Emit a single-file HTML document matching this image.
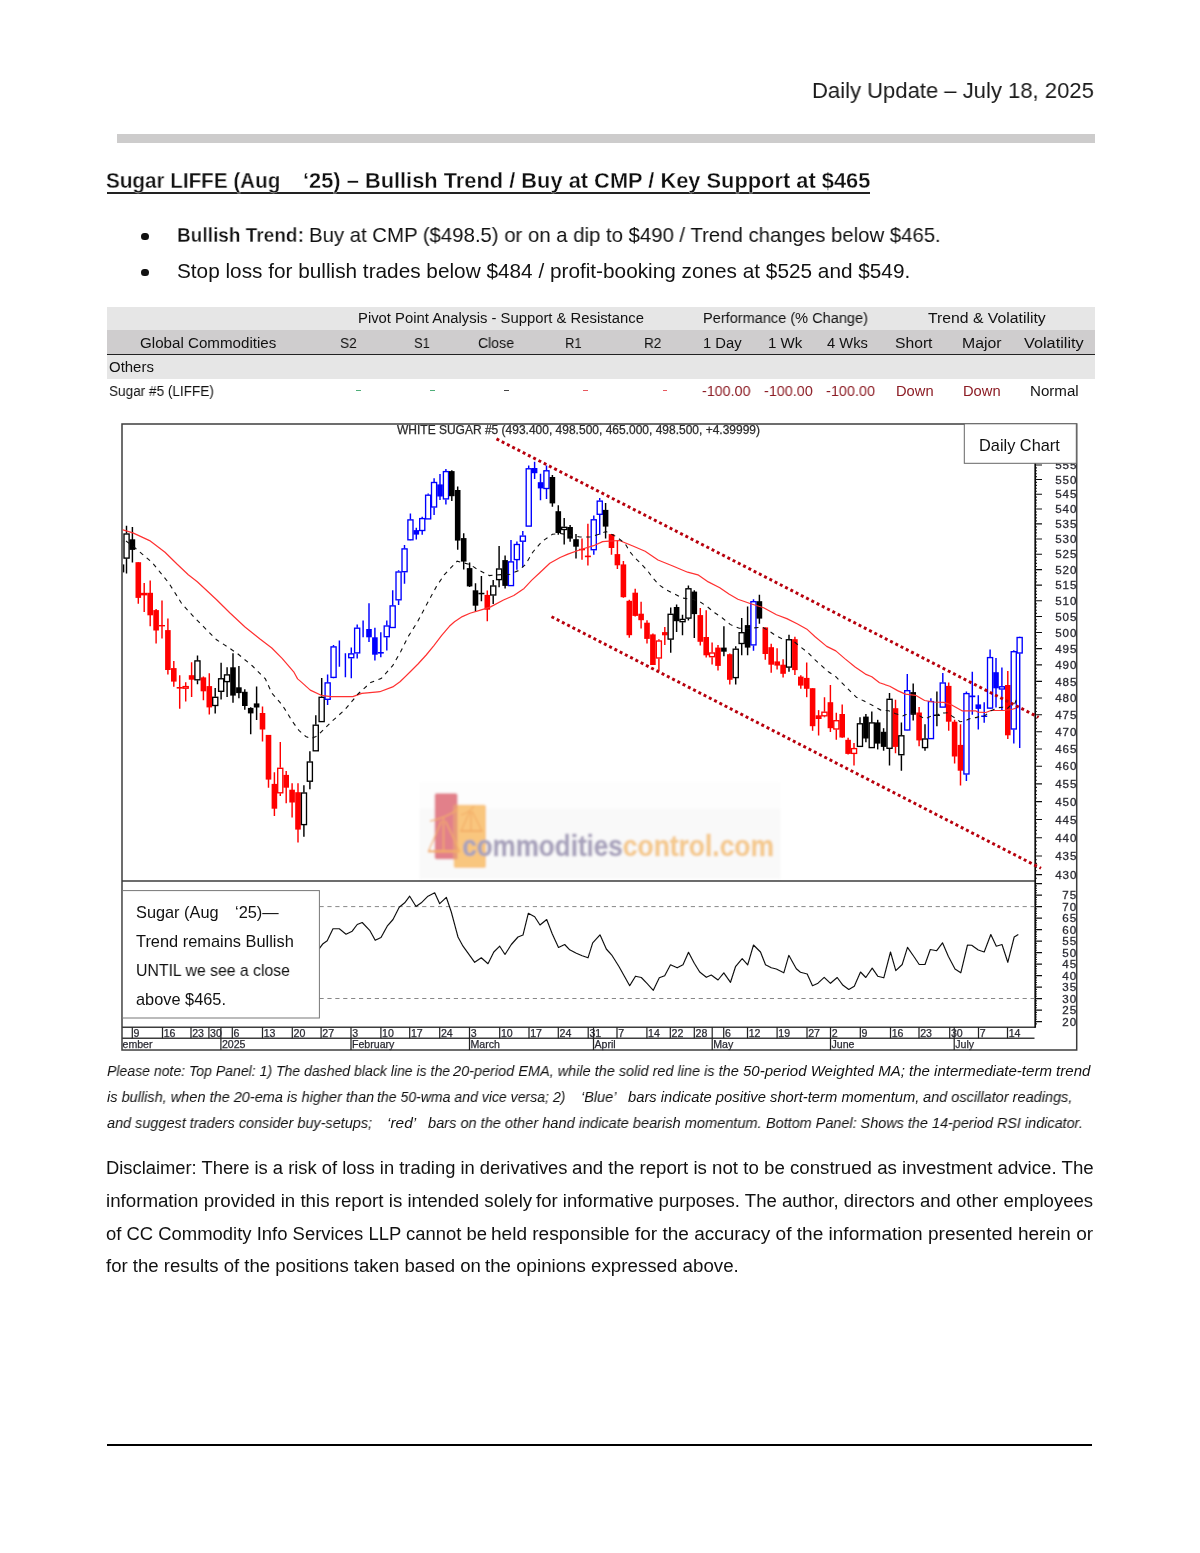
<!DOCTYPE html>
<html><head><meta charset="utf-8"><title>Daily Update</title>
<style>
html,body{margin:0;padding:0;background:#fff}
body{width:1200px;height:1553px;position:relative;overflow:hidden;font-family:"Liberation Sans",sans-serif}
.t{position:absolute;white-space:pre;line-height:1;transform-origin:0 0;color:#111;will-change:transform}
.b{position:absolute}
svg{position:absolute;left:0;top:0}
</style></head><body>
<div class="b" style="left:117px;top:134px;width:977.5px;height:8.5px;background:#cdcccc;"></div>
<div class="b" style="left:107px;top:192.3px;width:763px;height:1.6px;background:#222;"></div>
<div class="b" style="left:141.3px;top:232.5px;width:7.5px;height:7.9px;background:#111;border-radius:50%"></div>
<div class="b" style="left:141.3px;top:268.5px;width:7.5px;height:7.9px;background:#111;border-radius:50%"></div>
<div class="b" style="left:107px;top:307px;width:987.5px;height:23px;background:#e6e6e6;"></div>
<div class="b" style="left:107px;top:330px;width:987.5px;height:23.6px;background:#cfcdce;"></div>
<div class="b" style="left:107px;top:353.5px;width:987.5px;height:1.3px;background:#222;"></div>
<div class="b" style="left:107px;top:355px;width:987.5px;height:23.6px;background:#e6e6e6;"></div>
<div class="b" style="left:356.3px;top:390.4px;width:4.4px;height:1.1px;background:#4fae79;"></div>
<div class="b" style="left:430.4px;top:390.4px;width:4.4px;height:1.1px;background:#4fae79;"></div>
<div class="b" style="left:504.2px;top:390.4px;width:4.4px;height:1.1px;background:#444;"></div>
<div class="b" style="left:583.4px;top:390.4px;width:4.4px;height:1.1px;background:#e8585e;"></div>
<div class="b" style="left:662.8px;top:390.4px;width:4.4px;height:1.1px;background:#e8585e;"></div>
<div class="b" style="left:107px;top:1443.6px;width:984.5px;height:2.8px;background:#000;"></div>
<svg width="1200" height="1553" viewBox="0 0 1200 1553" font-family="Liberation Sans, sans-serif">
<defs><clipPath id="cp"><rect x="122.7" y="424" width="954" height="626"/></clipPath><clipPath id="cl"><rect x="1040" y="463.5" width="36.2" height="566"/></clipPath><filter id="bl" x="0" y="0" width="1200" height="1553" filterUnits="userSpaceOnUse"><feGaussianBlur stdDeviation="0.42"/></filter><filter id="bw" x="400" y="770" width="400" height="120" filterUnits="userSpaceOnUse"><feGaussianBlur stdDeviation="0.8"/></filter></defs>
<g filter="url(#bl)"><g filter="url(#bw)"><rect x="419.5" y="782" width="361" height="97" fill="#fdfdfd"/><rect x="419.5" y="808.5" width="361" height="70" fill="#f9f9f9"/><rect x="434.7" y="793.3" width="22.8" height="66" rx="2" fill="#e2808a"/><rect x="453.7" y="804.7" width="32.3" height="63.3" rx="2" fill="#f9c67e"/><rect x="453.7" y="804.7" width="3.8" height="54.5" fill="#e79a78"/><g fill="none" stroke="#f3ae68" stroke-width="1.3"><path d="M430 821 Q446 818 458 809"/><path d="M443.5 818V851"/><path d="M441.5 821L428.5 851H459.5L445.5 821"/><path d="M428 851.5H460" stroke-width="2"/><path d="M470 811L461 831H482L472 811M471 812V830"/><path d="M460.5 831H482.5" stroke-width="1.8"/><path d="M461 815Q470 812 474 806"/></g><text x="462.2" y="856" font-size="29.5" font-weight="700" textLength="160.6" lengthAdjust="spacingAndGlyphs" fill="#a8a2bc" stroke="#a8a2bc" stroke-width="0.5">commodities</text><text x="622.8" y="856" font-size="29.5" font-weight="700" textLength="151.2" lengthAdjust="spacingAndGlyphs" fill="#f4c98e" stroke="#f4c98e" stroke-width="0.5">control.com</text></g>
<g fill="none" stroke="#3c3c3c" stroke-width="1.5"><rect x="122" y="424" width="954.7" height="626"/><path d="M122 881H1035.5M122 1027.2H1035.5M122 1038.2H1034.5"/></g>
<g stroke="#111" fill="none"><path d="M1035.2 463V1027.8" stroke-width="1.7"/><path d="M1035 878.3H1036.9M1035 874.6H1042M1035 870.8H1036.9M1035 867.1H1036.9M1035 863.4H1036.9M1035 859.7H1036.9M1035 856.0H1042M1035 852.3H1036.9M1035 848.7H1036.9M1035 845.0H1036.9M1035 841.3H1036.9M1035 837.7H1042M1035 834.0H1036.9M1035 830.4H1036.9M1035 826.8H1036.9M1035 823.1H1036.9M1035 819.5H1042M1035 815.9H1036.9M1035 812.3H1036.9M1035 808.8H1036.9M1035 805.2H1036.9M1035 801.6H1042M1035 798.0H1036.9M1035 794.5H1036.9M1035 790.9H1036.9M1035 787.4H1036.9M1035 783.9H1042M1035 780.3H1036.9M1035 776.8H1036.9M1035 773.3H1036.9M1035 769.8H1036.9M1035 766.3H1042M1035 762.8H1036.9M1035 759.4H1036.9M1035 755.9H1036.9M1035 752.4H1036.9M1035 749.0H1042M1035 745.5H1036.9M1035 742.1H1036.9M1035 738.7H1036.9M1035 735.2H1036.9M1035 731.8H1042M1035 728.4H1036.9M1035 725.0H1036.9M1035 721.6H1036.9M1035 718.2H1036.9M1035 714.8H1042M1035 711.5H1036.9M1035 708.1H1036.9M1035 704.7H1036.9M1035 701.4H1036.9M1035 698.0H1042M1035 694.7H1036.9M1035 691.3H1036.9M1035 688.0H1036.9M1035 684.7H1036.9M1035 681.4H1042M1035 678.1H1036.9M1035 674.8H1036.9M1035 671.5H1036.9M1035 668.2H1036.9M1035 664.9H1042M1035 661.7H1036.9M1035 658.4H1036.9M1035 655.1H1036.9M1035 651.9H1036.9M1035 648.6H1042M1035 645.4H1036.9M1035 642.2H1036.9M1035 638.9H1036.9M1035 635.7H1036.9M1035 632.5H1042M1035 629.3H1036.9M1035 626.1H1036.9M1035 622.9H1036.9M1035 619.7H1036.9M1035 616.5H1042M1035 613.4H1036.9M1035 610.2H1036.9M1035 607.0H1036.9M1035 603.9H1036.9M1035 600.7H1042M1035 597.6H1036.9M1035 594.4H1036.9M1035 591.3H1036.9M1035 588.2H1036.9M1035 585.1H1042M1035 581.9H1036.9M1035 578.8H1036.9M1035 575.7H1036.9M1035 572.6H1036.9M1035 569.6H1042M1035 566.5H1036.9M1035 563.4H1036.9M1035 560.3H1036.9M1035 557.3H1036.9M1035 554.2H1042M1035 551.1H1036.9M1035 548.1H1036.9M1035 545.0H1036.9M1035 542.0H1036.9M1035 539.0H1042M1035 536.0H1036.9M1035 532.9H1036.9M1035 529.9H1036.9M1035 526.9H1036.9M1035 523.9H1042M1035 520.9H1036.9M1035 517.9H1036.9M1035 514.9H1036.9M1035 512.0H1036.9M1035 509.0H1042M1035 506.0H1036.9M1035 503.0H1036.9M1035 500.1H1036.9M1035 497.1H1036.9M1035 494.2H1042M1035 491.2H1036.9M1035 488.3H1036.9M1035 485.4H1036.9M1035 482.4H1036.9M1035 479.5H1042M1035 476.6H1036.9M1035 473.7H1036.9M1035 470.8H1036.9M1035 467.9H1036.9M1035 465.0H1042M1035 1023.9H1036.9M1035 1021.6H1042M1035 1019.3H1036.9M1035 1017.0H1036.9M1035 1014.7H1036.9M1035 1012.4H1036.9M1035 1010.1H1042M1035 1007.8H1036.9M1035 1005.5H1036.9M1035 1003.2H1036.9M1035 1000.9H1036.9M1035 998.6H1042M1035 996.3H1036.9M1035 994.0H1036.9M1035 991.7H1036.9M1035 989.4H1036.9M1035 987.1H1042M1035 984.8H1036.9M1035 982.5H1036.9M1035 980.2H1036.9M1035 977.9H1036.9M1035 975.6H1042M1035 973.3H1036.9M1035 971.0H1036.9M1035 968.7H1036.9M1035 966.4H1036.9M1035 964.1H1042M1035 961.8H1036.9M1035 959.5H1036.9M1035 957.2H1036.9M1035 954.9H1036.9M1035 952.6H1042M1035 950.3H1036.9M1035 948.0H1036.9M1035 945.7H1036.9M1035 943.4H1036.9M1035 941.1H1042M1035 938.8H1036.9M1035 936.5H1036.9M1035 934.2H1036.9M1035 931.9H1036.9M1035 929.6H1042M1035 927.3H1036.9M1035 925.0H1036.9M1035 922.7H1036.9M1035 920.4H1036.9M1035 918.1H1042M1035 915.8H1036.9M1035 913.5H1036.9M1035 911.2H1036.9M1035 908.9H1036.9M1035 906.6H1042M1035 904.3H1036.9M1035 902.0H1036.9M1035 899.7H1036.9M1035 897.4H1036.9M1035 895.1H1042M1035 892.8H1036.9M1035 890.5H1036.9M1035 888.2H1036.9M1035 885.9H1036.9M1035 883.6H1042" stroke-width="1.1"/></g>
<g clip-path="url(#cl)" font-size="11.6" fill="#2b2b33" stroke="#2b2b33" stroke-width="0.3" letter-spacing="0.9"><text x="1055.2" y="878.7">430</text><text x="1055.2" y="860.1">435</text><text x="1055.2" y="841.8">440</text><text x="1055.2" y="823.6">445</text><text x="1055.2" y="805.7">450</text><text x="1055.2" y="788.0">455</text><text x="1055.2" y="770.4">460</text><text x="1055.2" y="753.1">465</text><text x="1055.2" y="735.9">470</text><text x="1055.2" y="718.9">475</text><text x="1055.2" y="702.1">480</text><text x="1055.2" y="685.5">485</text><text x="1055.2" y="669.0">490</text><text x="1055.2" y="652.7">495</text><text x="1055.2" y="636.6">500</text><text x="1055.2" y="620.6">505</text><text x="1055.2" y="604.8">510</text><text x="1055.2" y="589.2">515</text><text x="1055.2" y="573.7">520</text><text x="1055.2" y="558.3">525</text><text x="1055.2" y="543.1">530</text><text x="1055.2" y="528.0">535</text><text x="1055.2" y="513.1">540</text><text x="1055.2" y="498.3">545</text><text x="1055.2" y="483.6">550</text><text x="1055.2" y="469.1">555</text><text x="1062.3" y="1025.7">20</text><text x="1062.3" y="1014.2">25</text><text x="1062.3" y="1002.7">30</text><text x="1062.3" y="991.2">35</text><text x="1062.3" y="979.7">40</text><text x="1062.3" y="968.2">45</text><text x="1062.3" y="956.7">50</text><text x="1062.3" y="945.2">55</text><text x="1062.3" y="933.7">60</text><text x="1062.3" y="922.2">65</text><text x="1062.3" y="910.7">70</text><text x="1062.3" y="899.2">75</text></g>
<text x="397" y="434.2" font-size="11.9" fill="#2a2a2a" stroke="#2a2a2a" stroke-width="0.25" textLength="363" lengthAdjust="spacingAndGlyphs">WHITE SUGAR #5 (493.400, 498.500, 465.000, 498.500, +4.39999)</text>
<path d="M319.5 906.6H1035M319.5 998.5H1035" stroke="#888" stroke-width="1" stroke-dasharray="4.2 3.7" fill="none"/>
<g clip-path="url(#cp)"><rect x="122.7" y="564.4" width="1.6" height="8" fill="#000"/><path d="M126.5 525.8V533.5M126.5 558.6V573.4" stroke="#000000" stroke-width="1.45"/><rect x="124.0" y="534.0" width="5.1" height="24.1" fill="#fff" stroke="#000000" stroke-width="1.35"/><path d="M132.4 527.1V562.5" stroke="#000000" stroke-width="1.45"/><rect x="129.6" y="539.3" width="5.6" height="10.6" fill="#000000"/><path d="M138.3 562.2V603.7" stroke="#ff0000" stroke-width="1.45"/><rect x="135.5" y="562.2" width="5.6" height="35.7" fill="#ff0000"/><path d="M144.2 583.1V593.0M144.2 595.1V612.1" stroke="#ff0000" stroke-width="1.45"/><rect x="141.7" y="593.5" width="5.1" height="1.2" fill="#fff" stroke="#ff0000" stroke-width="1.35"/><path d="M150.2 580.5V626.2" stroke="#ff0000" stroke-width="1.45"/><rect x="147.4" y="592.8" width="5.6" height="22.5" fill="#ff0000"/><path d="M156.1 608.9V643.6" stroke="#ff0000" stroke-width="1.45"/><rect x="153.3" y="610.1" width="5.6" height="20.4" fill="#ff0000"/><path d="M162.0 600.5V638.5" stroke="#ff0000" stroke-width="1.45"/><rect x="159.0" y="625.0" width="6" height="1.4" fill="#ff0000"/><path d="M167.9 618.5V674.5" stroke="#ff0000" stroke-width="1.45"/><rect x="165.1" y="630.1" width="5.6" height="39.9" fill="#ff0000"/><path d="M173.8 661.0V686.8" stroke="#ff0000" stroke-width="1.45"/><rect x="171.0" y="668.1" width="5.6" height="13.5" fill="#ff0000"/><path d="M179.7 675.2V708.7" stroke="#ff0000" stroke-width="1.45"/><rect x="176.7" y="687.0" width="6" height="1.6" fill="#ff0000"/><path d="M185.7 682.3V686.1M185.7 688.7V701.6" stroke="#ff0000" stroke-width="1.45"/><rect x="183.1" y="686.6" width="5.1" height="1.6" fill="#fff" stroke="#ff0000" stroke-width="1.35"/><path d="M191.6 662.3V697.0" stroke="#ff0000" stroke-width="1.45"/><rect x="188.8" y="675.2" width="5.6" height="4.5" fill="#ff0000"/><path d="M197.5 655.5V660.4M197.5 680.3V684.2" stroke="#000000" stroke-width="1.45"/><rect x="194.9" y="660.9" width="5.1" height="18.9" fill="#fff" stroke="#000000" stroke-width="1.35"/><path d="M203.4 676.5V700.3" stroke="#ff0000" stroke-width="1.45"/><rect x="200.6" y="677.4" width="5.6" height="13.9" fill="#ff0000"/><path d="M209.3 673.3V714.5" stroke="#ff0000" stroke-width="1.45"/><rect x="206.5" y="686.1" width="5.6" height="21.3" fill="#ff0000"/><path d="M215.2 688.0V696.8M215.2 706.0V713.5" stroke="#000000" stroke-width="1.45"/><rect x="212.7" y="697.3" width="5.1" height="8.2" fill="#fff" stroke="#000000" stroke-width="1.35"/><path d="M221.1 662.8V678.3M221.1 691.8V699.5" stroke="#000000" stroke-width="1.45"/><rect x="218.6" y="678.8" width="5.1" height="12.5" fill="#fff" stroke="#000000" stroke-width="1.35"/><path d="M227.1 667.3V674.4M227.1 682.1V696.9" stroke="#000000" stroke-width="1.45"/><rect x="224.5" y="674.9" width="5.1" height="6.7" fill="#fff" stroke="#000000" stroke-width="1.35"/><path d="M233.0 653.2V702.7" stroke="#000000" stroke-width="1.45"/><rect x="230.2" y="667.3" width="5.6" height="28.3" fill="#000000"/><path d="M238.9 666.0V698.2" stroke="#000000" stroke-width="1.45"/><rect x="236.1" y="687.3" width="5.6" height="5.8" fill="#000000"/><path d="M244.8 689.2V709.8" stroke="#000000" stroke-width="1.45"/><rect x="242.0" y="691.8" width="5.6" height="14.2" fill="#000000"/><path d="M250.7 707.2V734.3" stroke="#000000" stroke-width="1.45"/><rect x="247.9" y="707.9" width="5.6" height="5.5" fill="#000000"/><path d="M256.6 686.6V720.1" stroke="#000000" stroke-width="1.45"/><rect x="253.8" y="703.4" width="5.6" height="4.1" fill="#000000"/><path d="M262.5 706.6V741.4" stroke="#ff0000" stroke-width="1.45"/><rect x="259.7" y="713.0" width="5.6" height="16.5" fill="#ff0000"/><path d="M268.5 734.9V787.7" stroke="#ff0000" stroke-width="1.45"/><rect x="265.7" y="734.9" width="5.6" height="44.7" fill="#ff0000"/><path d="M274.4 772.3V816.1" stroke="#ff0000" stroke-width="1.45"/><rect x="271.6" y="783.9" width="5.6" height="24.8" fill="#ff0000"/><path d="M280.3 742.0V767.8M280.3 793.3V796.1" stroke="#ff0000" stroke-width="1.45"/><rect x="277.7" y="768.3" width="5.1" height="24.5" fill="#fff" stroke="#ff0000" stroke-width="1.35"/><path d="M286.2 771.0V803.2" stroke="#ff0000" stroke-width="1.45"/><rect x="283.4" y="774.9" width="5.6" height="12.8" fill="#ff0000"/><path d="M292.1 783.2V817.4" stroke="#ff0000" stroke-width="1.45"/><rect x="289.3" y="789.7" width="5.6" height="12.8" fill="#ff0000"/><path d="M298.0 783.2V842.5" stroke="#ff0000" stroke-width="1.45"/><rect x="295.2" y="792.2" width="5.6" height="37.4" fill="#ff0000"/><path d="M303.9 785.2V792.5M303.9 825.1V836.7" stroke="#000000" stroke-width="1.45"/><rect x="301.4" y="793.0" width="5.1" height="31.6" fill="#fff" stroke="#000000" stroke-width="1.35"/><path d="M309.9 751.2V761.5M309.9 781.7V789.2" stroke="#000000" stroke-width="1.45"/><rect x="307.3" y="762.0" width="5.1" height="19.2" fill="#fff" stroke="#000000" stroke-width="1.35"/><path d="M315.8 715.3V724.7M315.8 751.3V751.3" stroke="#000000" stroke-width="1.45"/><rect x="313.2" y="725.2" width="5.1" height="25.6" fill="#fff" stroke="#000000" stroke-width="1.35"/><path d="M321.7 677.9V696.8M321.7 722.1V722.1" stroke="#000000" stroke-width="1.45"/><rect x="319.1" y="697.3" width="5.1" height="24.3" fill="#fff" stroke="#000000" stroke-width="1.35"/><path d="M327.6 674.4V682.4M327.6 699.8V705.0" stroke="#0000ff" stroke-width="1.45"/><rect x="325.1" y="682.9" width="5.1" height="16.4" fill="#fff" stroke="#0000ff" stroke-width="1.35"/><path d="M333.5 645.1V646.4M333.5 677.9V678.2" stroke="#0000ff" stroke-width="1.45"/><rect x="331.0" y="646.9" width="5.1" height="30.5" fill="#fff" stroke="#0000ff" stroke-width="1.35"/><path d="M339.4 640.6V666.7" stroke="#0000ff" stroke-width="1.45"/><path d="M345.4 653.2V677.3" stroke="#0000ff" stroke-width="1.45"/><path d="M351.3 647.6V653.4M351.3 658.2V678.2" stroke="#0000ff" stroke-width="1.45"/><rect x="348.7" y="653.9" width="5.1" height="3.8" fill="#fff" stroke="#0000ff" stroke-width="1.35"/><path d="M357.2 624.5V627.7M357.2 653.4V658.6" stroke="#0000ff" stroke-width="1.45"/><rect x="354.6" y="628.2" width="5.1" height="24.7" fill="#fff" stroke="#0000ff" stroke-width="1.35"/><path d="M363.1 620.6V637.3" stroke="#0000ff" stroke-width="1.45"/><path d="M369.0 603.2V641.9" stroke="#0000ff" stroke-width="1.45"/><rect x="366.2" y="629.0" width="5.6" height="8.3" fill="#0000ff"/><path d="M374.9 627.7V660.5" stroke="#0000ff" stroke-width="1.45"/><rect x="372.1" y="637.3" width="5.6" height="17.4" fill="#0000ff"/><path d="M380.8 632.2V657.3" stroke="#0000ff" stroke-width="1.45"/><rect x="377.8" y="652.0" width="6" height="1.6" fill="#0000ff"/><path d="M386.8 620.5V625.5M386.8 637.2V650.5" stroke="#0000ff" stroke-width="1.45"/><rect x="384.2" y="626.0" width="5.1" height="10.7" fill="#fff" stroke="#0000ff" stroke-width="1.35"/><path d="M392.7 590.2V605.4M392.7 628.0V628.0" stroke="#0000ff" stroke-width="1.45"/><rect x="390.1" y="605.9" width="5.1" height="21.6" fill="#fff" stroke="#0000ff" stroke-width="1.35"/><path d="M398.6 570.3V571.5M398.6 600.3V605.0" stroke="#0000ff" stroke-width="1.45"/><rect x="396.0" y="572.0" width="5.1" height="27.8" fill="#fff" stroke="#0000ff" stroke-width="1.35"/><path d="M404.5 544.9V548.4M404.5 572.2V583.8" stroke="#0000ff" stroke-width="1.45"/><rect x="402.0" y="548.9" width="5.1" height="22.8" fill="#fff" stroke="#0000ff" stroke-width="1.35"/><path d="M410.4 513.6V519.4M410.4 540.3V540.6" stroke="#0000ff" stroke-width="1.45"/><rect x="407.9" y="519.9" width="5.1" height="19.9" fill="#fff" stroke="#0000ff" stroke-width="1.35"/><path d="M416.3 527.8V539.4" stroke="#0000ff" stroke-width="1.45"/><rect x="413.5" y="530.1" width="5.6" height="4.5" fill="#0000ff"/><path d="M422.2 516.8V518.1M422.2 531.0V534.8" stroke="#0000ff" stroke-width="1.45"/><rect x="419.7" y="518.6" width="5.1" height="11.9" fill="#fff" stroke="#0000ff" stroke-width="1.35"/><path d="M428.2 493.6V494.7M428.2 519.4V519.4" stroke="#0000ff" stroke-width="1.45"/><rect x="425.6" y="495.2" width="5.1" height="23.7" fill="#fff" stroke="#0000ff" stroke-width="1.35"/><path d="M434.1 478.2V482.0M434.1 507.5V514.9" stroke="#0000ff" stroke-width="1.45"/><rect x="431.5" y="482.5" width="5.1" height="24.5" fill="#fff" stroke="#0000ff" stroke-width="1.35"/><path d="M440.0 474.1V500.1" stroke="#0000ff" stroke-width="1.45"/><rect x="437.2" y="484.4" width="5.6" height="12.1" fill="#0000ff"/><path d="M445.9 468.9V471.1M445.9 499.4V504.6" stroke="#0000ff" stroke-width="1.45"/><rect x="443.4" y="471.6" width="5.1" height="27.3" fill="#fff" stroke="#0000ff" stroke-width="1.35"/><path d="M451.8 470.2V501.1" stroke="#000000" stroke-width="1.45"/><rect x="449.0" y="471.1" width="5.6" height="25.1" fill="#000000"/><path d="M457.7 486.6V549.7" stroke="#000000" stroke-width="1.45"/><rect x="454.9" y="490.0" width="5.6" height="50.6" fill="#000000"/><path d="M463.7 533.3V569.6" stroke="#000000" stroke-width="1.45"/><rect x="460.9" y="538.1" width="5.6" height="23.5" fill="#000000"/><path d="M469.6 562.5V587.0" stroke="#000000" stroke-width="1.45"/><rect x="466.8" y="568.1" width="5.6" height="18.3" fill="#000000"/><path d="M475.5 583.2V611.5" stroke="#000000" stroke-width="1.45"/><rect x="472.7" y="590.3" width="5.6" height="15.4" fill="#000000"/><path d="M481.4 576.1V601.2" stroke="#000000" stroke-width="1.45"/><rect x="478.4" y="592.8" width="6" height="1.5" fill="#000000"/><path d="M487.3 590.4V621.3" stroke="#ff0000" stroke-width="1.45"/><rect x="484.5" y="594.9" width="5.6" height="14.8" fill="#ff0000"/><path d="M493.2 580.1V585.5M493.2 595.5V603.9" stroke="#000000" stroke-width="1.45"/><rect x="490.7" y="586.0" width="5.1" height="9.0" fill="#fff" stroke="#000000" stroke-width="1.35"/><path d="M499.1 545.9V568.5M499.1 580.1V587.2" stroke="#000000" stroke-width="1.45"/><rect x="496.6" y="569.0" width="5.1" height="10.6" fill="#fff" stroke="#000000" stroke-width="1.35"/><path d="M505.1 555.6V588.4" stroke="#000000" stroke-width="1.45"/><rect x="502.3" y="560.1" width="5.6" height="25.8" fill="#000000"/><path d="M511.0 540.1V561.4M511.0 586.1V586.1" stroke="#0000ff" stroke-width="1.45"/><rect x="508.4" y="561.9" width="5.1" height="23.7" fill="#fff" stroke="#0000ff" stroke-width="1.35"/><path d="M516.9 541.4V544.0M516.9 560.1V569.8" stroke="#0000ff" stroke-width="1.45"/><rect x="514.3" y="544.5" width="5.1" height="15.1" fill="#fff" stroke="#0000ff" stroke-width="1.35"/><path d="M522.8 530.9V535.6M522.8 541.7V567.2" stroke="#0000ff" stroke-width="1.45"/><rect x="520.3" y="536.1" width="5.1" height="5.1" fill="#fff" stroke="#0000ff" stroke-width="1.35"/><path d="M528.7 465.5V468.3M528.7 526.6V526.6" stroke="#0000ff" stroke-width="1.45"/><rect x="526.2" y="468.8" width="5.1" height="57.3" fill="#fff" stroke="#0000ff" stroke-width="1.35"/><path d="M534.6 461.8V479.0" stroke="#0000ff" stroke-width="1.45"/><rect x="531.8" y="468.0" width="5.6" height="5.2" fill="#0000ff"/><path d="M540.5 473.8V500.2" stroke="#0000ff" stroke-width="1.45"/><rect x="537.8" y="482.2" width="5.6" height="6.2" fill="#0000ff"/><path d="M546.5 465.5V470.3M546.5 489.0V498.9" stroke="#0000ff" stroke-width="1.45"/><rect x="543.9" y="470.8" width="5.1" height="17.7" fill="#fff" stroke="#0000ff" stroke-width="1.35"/><path d="M552.4 475.1V506.7" stroke="#000000" stroke-width="1.45"/><rect x="549.6" y="477.0" width="5.6" height="26.4" fill="#000000"/><path d="M558.3 505.2V534.8" stroke="#000000" stroke-width="1.45"/><rect x="555.5" y="511.2" width="5.6" height="21.8" fill="#000000"/><path d="M564.2 518.1V526.8M564.2 530.0V544.5" stroke="#000000" stroke-width="1.45"/><rect x="561.7" y="527.3" width="5.1" height="2.2" fill="#fff" stroke="#000000" stroke-width="1.35"/><path d="M570.1 525.1V541.8" stroke="#000000" stroke-width="1.45"/><rect x="567.3" y="527.0" width="5.6" height="11.6" fill="#000000"/><path d="M576.0 534.1V558.6" stroke="#000000" stroke-width="1.45"/><rect x="573.2" y="539.2" width="5.6" height="7.5" fill="#000000"/><path d="M582.0 538.6V559.8" stroke="#ff0000" stroke-width="1.45"/><rect x="579.0" y="548.8" width="6" height="1.5" fill="#ff0000"/><path d="M587.9 523.8V565.6" stroke="#ff0000" stroke-width="1.45"/><rect x="584.9" y="555.6" width="6" height="1.6" fill="#ff0000"/><path d="M593.8 515.4V519.3M593.8 550.2V554.7" stroke="#0000ff" stroke-width="1.45"/><rect x="591.2" y="519.8" width="5.1" height="29.9" fill="#fff" stroke="#0000ff" stroke-width="1.35"/><path d="M599.7 498.0V500.6M599.7 514.8V534.7" stroke="#0000ff" stroke-width="1.45"/><rect x="597.2" y="501.1" width="5.1" height="13.2" fill="#fff" stroke="#0000ff" stroke-width="1.35"/><path d="M605.6 502.9V538.6" stroke="#000000" stroke-width="1.45"/><rect x="602.8" y="509.9" width="5.6" height="16.7" fill="#000000"/><path d="M611.5 534.1V554.7" stroke="#ff0000" stroke-width="1.45"/><rect x="608.7" y="534.1" width="5.6" height="13.9" fill="#ff0000"/><path d="M617.4 540.5V568.9" stroke="#ff0000" stroke-width="1.45"/><rect x="614.6" y="554.1" width="5.6" height="11.2" fill="#ff0000"/><path d="M623.4 561.1V597.8" stroke="#ff0000" stroke-width="1.45"/><rect x="620.6" y="564.4" width="5.6" height="32.8" fill="#ff0000"/><path d="M629.3 599.8V637.8" stroke="#ff0000" stroke-width="1.45"/><rect x="626.5" y="600.8" width="5.6" height="34.4" fill="#ff0000"/><path d="M635.2 588.8V616.5" stroke="#ff0000" stroke-width="1.45"/><rect x="632.4" y="592.7" width="5.6" height="23.2" fill="#ff0000"/><path d="M641.1 601.8V628.5" stroke="#ff0000" stroke-width="1.45"/><rect x="638.3" y="613.7" width="5.6" height="6.5" fill="#ff0000"/><path d="M647.0 620.3V643.5" stroke="#ff0000" stroke-width="1.45"/><rect x="644.2" y="622.7" width="5.6" height="16.2" fill="#ff0000"/><path d="M652.9 633.4V665.0" stroke="#ff0000" stroke-width="1.45"/><rect x="650.1" y="634.4" width="5.6" height="30.6" fill="#ff0000"/><path d="M658.9 639.2V640.5M658.9 658.5V670.8" stroke="#ff0000" stroke-width="1.45"/><rect x="656.3" y="641.0" width="5.1" height="17.0" fill="#fff" stroke="#ff0000" stroke-width="1.35"/><path d="M664.8 627.0V645.0" stroke="#ff0000" stroke-width="1.45"/><rect x="662.0" y="632.1" width="5.6" height="3.2" fill="#ff0000"/><path d="M670.7 607.6V613.8M670.7 639.6V652.7" stroke="#000000" stroke-width="1.45"/><rect x="668.1" y="614.3" width="5.1" height="24.8" fill="#fff" stroke="#000000" stroke-width="1.35"/><path d="M676.6 604.4V631.9" stroke="#000000" stroke-width="1.45"/><rect x="673.8" y="607.0" width="5.6" height="14.2" fill="#000000"/><path d="M682.5 614.7V618.9M682.5 622.2V635.3" stroke="#000000" stroke-width="1.45"/><rect x="680.0" y="619.4" width="5.1" height="2.3" fill="#fff" stroke="#000000" stroke-width="1.35"/><path d="M688.4 585.5V588.3M688.4 618.6V620.5" stroke="#000000" stroke-width="1.45"/><rect x="685.9" y="588.8" width="5.1" height="29.3" fill="#fff" stroke="#000000" stroke-width="1.35"/><path d="M694.3 590.3V637.9" stroke="#000000" stroke-width="1.45"/><rect x="691.5" y="591.6" width="5.6" height="22.5" fill="#000000"/><path d="M700.3 607.9V645.6" stroke="#ff0000" stroke-width="1.45"/><rect x="697.5" y="615.1" width="5.6" height="26.7" fill="#ff0000"/><path d="M706.2 610.2V657.6" stroke="#ff0000" stroke-width="1.45"/><rect x="703.4" y="637.0" width="5.6" height="18.3" fill="#ff0000"/><path d="M712.1 642.4V652.5M712.1 657.2V664.6" stroke="#ff0000" stroke-width="1.45"/><rect x="709.5" y="653.0" width="5.1" height="3.7" fill="#fff" stroke="#ff0000" stroke-width="1.35"/><path d="M718.0 645.0V670.5" stroke="#ff0000" stroke-width="1.45"/><rect x="715.2" y="647.6" width="5.6" height="18.3" fill="#ff0000"/><path d="M723.9 626.3V656.3" stroke="#000000" stroke-width="1.45"/><rect x="721.1" y="647.6" width="5.6" height="4.1" fill="#000000"/><path d="M729.8 653.4V684.5" stroke="#ff0000" stroke-width="1.45"/><rect x="727.0" y="654.2" width="5.6" height="25.6" fill="#ff0000"/><path d="M735.7 646.3V648.7M735.7 678.1V684.5" stroke="#000000" stroke-width="1.45"/><rect x="733.2" y="649.2" width="5.1" height="28.4" fill="#fff" stroke="#000000" stroke-width="1.35"/><path d="M741.7 618.0V632.2M741.7 644.0V655.3" stroke="#000000" stroke-width="1.45"/><rect x="739.1" y="632.7" width="5.1" height="10.8" fill="#fff" stroke="#000000" stroke-width="1.35"/><path d="M747.6 606.4V655.3" stroke="#000000" stroke-width="1.45"/><rect x="744.8" y="625.1" width="5.6" height="22.5" fill="#000000"/><path d="M753.5 599.3V601.2M753.5 645.4V650.8" stroke="#0000ff" stroke-width="1.45"/><rect x="750.9" y="601.7" width="5.1" height="43.2" fill="#fff" stroke="#0000ff" stroke-width="1.35"/><path d="M759.4 594.8V623.8" stroke="#000000" stroke-width="1.45"/><rect x="756.6" y="601.2" width="5.6" height="17.4" fill="#000000"/><path d="M765.3 627.4V659.8" stroke="#ff0000" stroke-width="1.45"/><rect x="762.5" y="627.4" width="5.6" height="26.6" fill="#ff0000"/><path d="M771.2 643.7V672.7" stroke="#ff0000" stroke-width="1.45"/><rect x="768.4" y="647.2" width="5.6" height="17.5" fill="#ff0000"/><path d="M777.1 648.3V669.5" stroke="#ff0000" stroke-width="1.45"/><rect x="774.4" y="661.4" width="5.6" height="4.2" fill="#ff0000"/><path d="M783.1 659.2V677.6" stroke="#ff0000" stroke-width="1.45"/><rect x="780.3" y="664.7" width="5.6" height="9.1" fill="#ff0000"/><path d="M789.0 634.7V639.2M789.0 667.6V671.7" stroke="#000000" stroke-width="1.45"/><rect x="786.4" y="639.7" width="5.1" height="27.4" fill="#fff" stroke="#000000" stroke-width="1.35"/><path d="M794.9 636.7V675.0" stroke="#ff0000" stroke-width="1.45"/><rect x="792.1" y="639.2" width="5.6" height="30.9" fill="#ff0000"/><path d="M800.8 675.3V688.8" stroke="#ff0000" stroke-width="1.45"/><rect x="798.0" y="676.6" width="5.6" height="9.0" fill="#ff0000"/><path d="M806.7 662.4V697.2" stroke="#ff0000" stroke-width="1.45"/><rect x="803.9" y="677.9" width="5.6" height="10.9" fill="#ff0000"/><path d="M812.6 688.2V730.8" stroke="#ff0000" stroke-width="1.45"/><rect x="809.8" y="688.2" width="5.6" height="38.0" fill="#ff0000"/><path d="M818.6 710.1V735.5" stroke="#ff0000" stroke-width="1.45"/><rect x="815.6" y="715.3" width="6" height="3.7" fill="#ff0000"/><path d="M824.5 697.3V711.7M824.5 716.3V717.2" stroke="#ff0000" stroke-width="1.45"/><rect x="821.9" y="712.2" width="5.1" height="3.6" fill="#fff" stroke="#ff0000" stroke-width="1.35"/><path d="M830.4 685.0V732.0" stroke="#ff0000" stroke-width="1.45"/><rect x="827.6" y="702.2" width="5.6" height="26.0" fill="#ff0000"/><path d="M836.3 712.7V720.2M836.3 729.5V739.8" stroke="#ff0000" stroke-width="1.45"/><rect x="833.8" y="720.7" width="5.1" height="8.3" fill="#fff" stroke="#ff0000" stroke-width="1.35"/><path d="M842.2 704.4V737.8" stroke="#ff0000" stroke-width="1.45"/><rect x="839.4" y="714.0" width="5.6" height="23.5" fill="#ff0000"/><path d="M848.1 737.8V754.6" stroke="#ff0000" stroke-width="1.45"/><rect x="845.3" y="739.8" width="5.6" height="14.1" fill="#ff0000"/><path d="M854.0 743.0V748.1M854.0 753.9V765.5" stroke="#ff0000" stroke-width="1.45"/><rect x="851.5" y="748.6" width="5.1" height="4.8" fill="#fff" stroke="#ff0000" stroke-width="1.35"/><path d="M860.0 717.2V723.3M860.0 746.9V746.9" stroke="#000000" stroke-width="1.45"/><rect x="857.4" y="723.8" width="5.1" height="22.6" fill="#fff" stroke="#000000" stroke-width="1.35"/><path d="M865.9 714.0V742.3" stroke="#000000" stroke-width="1.45"/><rect x="863.1" y="716.6" width="5.6" height="21.9" fill="#000000"/><path d="M871.8 711.4V722.4M871.8 748.1V748.1" stroke="#000000" stroke-width="1.45"/><rect x="869.2" y="722.9" width="5.1" height="24.7" fill="#fff" stroke="#000000" stroke-width="1.35"/><path d="M877.7 719.8V749.4" stroke="#000000" stroke-width="1.45"/><rect x="874.9" y="722.4" width="5.6" height="21.2" fill="#000000"/><path d="M883.6 728.2V750.7" stroke="#000000" stroke-width="1.45"/><rect x="880.8" y="731.8" width="5.6" height="15.1" fill="#000000"/><path d="M889.5 693.1V698.8M889.5 748.8V765.5" stroke="#000000" stroke-width="1.45"/><rect x="887.0" y="699.3" width="5.1" height="49.0" fill="#fff" stroke="#000000" stroke-width="1.35"/><path d="M895.5 699.8V753.3" stroke="#ff0000" stroke-width="1.45"/><rect x="892.7" y="708.2" width="5.6" height="38.7" fill="#ff0000"/><path d="M901.4 722.4V735.3M901.4 755.2V770.7" stroke="#000000" stroke-width="1.45"/><rect x="898.8" y="735.8" width="5.1" height="18.9" fill="#fff" stroke="#000000" stroke-width="1.35"/><path d="M907.3 674.1V690.2M907.3 730.5V730.8" stroke="#0000ff" stroke-width="1.45"/><rect x="904.7" y="690.7" width="5.1" height="39.3" fill="#fff" stroke="#0000ff" stroke-width="1.35"/><path d="M913.2 683.4V720.5" stroke="#000000" stroke-width="1.45"/><rect x="910.4" y="692.1" width="5.6" height="22.6" fill="#000000"/><path d="M919.1 706.9V746.2" stroke="#ff0000" stroke-width="1.45"/><rect x="916.3" y="712.5" width="5.6" height="27.9" fill="#ff0000"/><path d="M925.0 724.3V738.5M925.0 748.1V750.7" stroke="#000000" stroke-width="1.45"/><rect x="922.5" y="739.0" width="5.1" height="8.6" fill="#fff" stroke="#000000" stroke-width="1.35"/><path d="M930.9 698.3V701.1M930.9 739.1V739.1" stroke="#0000ff" stroke-width="1.45"/><rect x="928.4" y="701.6" width="5.1" height="37.0" fill="#fff" stroke="#0000ff" stroke-width="1.35"/><path d="M936.9 691.5V726.2" stroke="#000000" stroke-width="1.45"/><rect x="933.9" y="714.6" width="6" height="1.4" fill="#000000"/><path d="M942.8 673.1V682.5M942.8 707.6V707.6" stroke="#0000ff" stroke-width="1.45"/><rect x="940.2" y="683.0" width="5.1" height="24.1" fill="#fff" stroke="#0000ff" stroke-width="1.35"/><path d="M948.7 682.5V730.8" stroke="#ff0000" stroke-width="1.45"/><rect x="945.9" y="685.9" width="5.6" height="35.8" fill="#ff0000"/><path d="M954.6 719.8V763.6" stroke="#ff0000" stroke-width="1.45"/><rect x="951.8" y="721.7" width="5.6" height="34.8" fill="#ff0000"/><path d="M960.5 724.3V785.5" stroke="#ff0000" stroke-width="1.45"/><rect x="957.7" y="744.9" width="5.6" height="25.8" fill="#ff0000"/><path d="M966.4 691.5V693.1M966.4 774.5V781.0" stroke="#0000ff" stroke-width="1.45"/><rect x="963.9" y="693.6" width="5.1" height="80.4" fill="#fff" stroke="#0000ff" stroke-width="1.35"/><path d="M972.3 671.8V714.7" stroke="#0000ff" stroke-width="1.45"/><rect x="969.3" y="695.5" width="6" height="1.7" fill="#0000ff"/><path d="M978.3 695.3V729.5" stroke="#0000ff" stroke-width="1.45"/><rect x="975.5" y="704.4" width="5.6" height="4.5" fill="#0000ff"/><path d="M984.2 702.2V722.8" stroke="#0000ff" stroke-width="1.45"/><rect x="981.2" y="715.5" width="6" height="1.5" fill="#0000ff"/><path d="M990.1 649.6V657.1M990.1 708.6V708.9" stroke="#0000ff" stroke-width="1.45"/><rect x="987.5" y="657.6" width="5.1" height="50.5" fill="#fff" stroke="#0000ff" stroke-width="1.35"/><path d="M996.0 658.0V707.6" stroke="#0000ff" stroke-width="1.45"/><rect x="993.2" y="672.2" width="5.6" height="16.1" fill="#0000ff"/><path d="M1001.9 667.4V686.3M1001.9 689.5V710.1" stroke="#0000ff" stroke-width="1.45"/><rect x="999.4" y="686.8" width="5.1" height="2.2" fill="#fff" stroke="#0000ff" stroke-width="1.35"/><path d="M1007.8 670.9V739.1" stroke="#ff0000" stroke-width="1.45"/><rect x="1005.0" y="685.0" width="5.6" height="50.3" fill="#ff0000"/><path d="M1013.8 650.3V651.2M1013.8 729.5V743.6" stroke="#0000ff" stroke-width="1.45"/><rect x="1011.2" y="651.7" width="5.1" height="77.3" fill="#fff" stroke="#0000ff" stroke-width="1.35"/><path d="M1019.7 636.7V637.0M1019.7 653.5V748.1" stroke="#0000ff" stroke-width="1.45"/><rect x="1017.1" y="637.5" width="5.1" height="15.5" fill="#fff" stroke="#0000ff" stroke-width="1.35"/><polyline points="122.0,529.7 132.9,532.9 149.6,540.6 165.0,552.2 176.7,563.8 188.3,574.7 197.3,581.8 216.6,599.8 230.0,613.0 245.0,627.0 260.0,639.0 271.8,648.0 282.1,658.3 293.7,671.8 297.6,678.9 300.0,680.9 310.3,690.1 321.2,695.3 330.9,696.6 352.8,696.6 361.8,693.4 379.8,691.7 392.7,686.9 400.0,681.8 410.0,672.0 418.0,664.0 426.2,655.0 433.9,645.6 441.7,635.3 449.4,626.3 454.5,621.8 462.3,616.6 470.0,613.3 482.9,609.4 490.6,606.9 503.5,600.0 513.8,595.5 524.1,588.4 531.8,580.1 539.5,573.0 549.8,563.3 560.1,557.5 567.9,554.1 580.8,549.5 593.6,545.7 602.6,541.6 609.1,541.2 619.4,540.5 632.3,545.7 645.1,551.2 658.0,560.0 672.2,565.8 687.6,572.2 697.9,574.8 708.3,581.9 719.8,587.7 728.9,594.1 737.9,599.3 750.8,603.8 763.6,607.7 776.5,614.8 786.8,618.6 797.1,623.8 807.4,629.6 815.1,636.7 826.7,646.4 835.8,650.9 844.8,658.6 855.1,667.0 865.4,674.1 871.8,676.7 879.5,682.7 889.8,686.3 897.6,690.6 905.3,694.1 915.6,695.3 924.6,700.5 933.6,702.0 943.9,702.4 951.7,705.0 962.0,710.8 975.5,710.8 978.0,712.1 985.8,712.5 990.9,710.5 1003.8,710.5 1011.5,709.5 1016.0,708.2" fill="none" stroke="#ff3030" stroke-width="1.2" stroke-linejoin="round"/><polyline points="126.0,541.0 135.5,548.3 152.2,562.5 168.9,583.1 181.8,603.7 194.7,617.9 216.6,639.8 229.3,648.0 237.7,653.8 252.5,666.0 265.4,678.9 271.8,693.1 282.1,704.7 292.4,721.4 298.9,730.4 305.8,736.5 311.0,738.5 316.0,736.5 319.3,733.9 332.2,721.1 345.1,709.5 358.0,694.0 370.8,682.4 381.1,678.6 392.7,665.7 400.5,652.0 408.2,636.6 417.2,622.4 428.1,601.8 436.5,586.4 444.2,574.8 457.1,561.2 469.9,564.5 477.7,569.5 489.3,575.6 495.8,574.9 509.9,574.3 518.9,570.4 525.4,564.6 533.1,551.7 542.1,541.4 552.4,534.3 560.1,533.5 570.0,535.0 580.0,537.0 590.0,537.0 600.0,534.0 606.0,531.5 616.0,536.5 625.0,543.5 630.0,552.0 635.0,558.0 640.0,562.6 647.7,570.9 652.9,578.0 659.3,585.1 667.0,590.3 674.8,594.1 682.5,598.0 698.0,600.6 707.0,606.4 714.7,612.8 722.4,618.0 730.1,624.4 739.2,628.3 750.8,628.3 762.3,627.0 768.8,630.9 776.5,636.0 783.0,639.2 792.0,639.9 799.7,646.3 807.4,652.1 815.1,659.8 822.9,666.9 828.0,671.5 835.8,676.7 843.5,684.4 851.2,692.1 856.4,697.3 864.1,701.1 871.8,705.0 880.8,710.1 888.6,710.8 895.0,713.4 902.7,715.9 905.3,714.7 916.2,713.4 920.8,716.6 925.3,719.2 928.5,717.2 933.6,715.3 937.5,715.3 940.7,712.7 944.6,713.0 948.4,712.7 951.7,715.9 956.8,719.2 960.0,721.7 963.9,721.4 967.8,719.5 972.3,717.7 976.1,717.6 980.0,716.3 983.9,716.3 987.7,713.4 990.9,710.8 995.4,708.9 998.6,707.6 1003.1,707.3 1007.0,708.9 1010.9,705.0 1014.7,703.7 1017.0,698.2 1019.0,698.2" fill="none" stroke="#111" stroke-width="1.1" stroke-dasharray="4.3 4.6"/><path d="M496.5 438.9L1038.6 717.3M551.5 616.7L1041 868.3" stroke="#b8000c" stroke-width="2.95" stroke-dasharray="2.95 2.95" fill="none"/></g>
<polyline points="319.3,948.7 323.0,943.7 327.2,940.7 333.0,928.7 339.3,928.7 346.0,934.2 352.2,931.2 357.2,924.5 362.2,922.5 369.7,930.3 375.2,940.3 381.0,937.5 387.2,926.2 393.0,919.5 399.2,907.3 404.7,902.8 409.7,896.2 416.0,906.5 421.3,902.8 428.0,896.2 434.7,892.8 439.7,903.7 446.3,897.3 451.3,912.0 458.0,937.0 463.0,946.2 474.7,962.3 481.3,957.8 488.0,963.7 493.8,952.0 499.7,946.2 505.0,954.5 511.3,944.5 518.0,937.0 523.0,935.0 528.3,913.3 534.7,916.7 540.0,925.0 546.7,919.5 552.2,933.7 558.5,947.5 564.7,944.5 569.7,949.8 576.3,953.2 582.2,955.7 588.0,957.8 592.7,942.8 600.0,934.8 606.3,949.0 612.2,955.7 618.8,966.2 629.7,985.7 635.5,976.2 641.3,977.5 647.2,983.7 653.3,990.3 659.3,977.8 664.7,975.7 670.5,964.8 677.2,967.8 683.0,964.8 688.5,952.3 694.3,963.2 699.7,972.0 706.3,977.3 711.3,975.0 718.0,980.0 723.8,972.8 730.5,982.3 735.5,966.7 742.2,958.7 747.7,964.8 753.5,945.0 760.5,952.0 765.5,964.8 771.3,967.8 776.3,969.0 783.8,972.8 788.8,955.3 796.3,968.7 800.5,972.3 807.2,974.0 812.5,985.7 818.0,983.2 824.2,977.3 830.5,983.3 837.2,977.5 843.0,985.3 848.8,989.5 854.3,986.2 860.5,972.0 865.8,977.5 872.2,968.2 877.7,976.2 883.8,977.8 890.5,952.0 895.8,970.7 902.2,964.5 907.5,947.3 914.2,957.0 919.2,964.5 925.0,964.5 930.3,949.5 936.7,950.7 942.5,942.8 948.3,956.2 955.0,969.0 960.8,972.8 967.5,945.0 971.7,945.3 978.3,950.0 984.2,952.0 990.8,934.5 996.3,946.2 1002.0,944.5 1007.8,962.3 1014.2,937.0 1018.3,934.5" fill="none" stroke="#111" stroke-width="1.15" stroke-linejoin="round"/>
</g>
<rect x="122.5" y="890.6" width="196.9" height="127.4" fill="#fff" stroke="#777" stroke-width="1"/>
<g filter="url(#bl)"><path d="M132.3 1027.2V1038.2M162.5 1027.2V1038.2M191.0 1027.2V1038.2M208.9 1027.2V1038.2M232.3 1027.2V1038.2M262.5 1027.2V1038.2M292.3 1027.2V1038.2M321.1 1027.2V1038.2M351.0 1027.2V1038.2M380.9 1027.2V1038.2M409.7 1027.2V1038.2M439.7 1027.2V1038.2M469.5 1027.2V1038.2M499.7 1027.2V1038.2M529.0 1027.2V1038.2M558.3 1027.2V1038.2M588.2 1027.2V1038.2M617.0 1027.2V1038.2M646.9 1027.2V1038.2M670.3 1027.2V1038.2M694.3 1027.2V1038.2M723.7 1027.2V1038.2M747.5 1027.2V1038.2M777.1 1027.2V1038.2M807.0 1027.2V1038.2M830.5 1027.2V1038.2M860.3 1027.2V1038.2M890.5 1027.2V1038.2M919.0 1027.2V1038.2M949.7 1027.2V1038.2M978.5 1027.2V1038.2M1007.5 1027.2V1038.2M220.9 1027.2V1050M351.0 1027.2V1050M469.5 1027.2V1050M593.5 1027.2V1050M712.2 1027.2V1050M830.5 1027.2V1050M954.2 1027.2V1050" stroke="#222" stroke-width="1.2" fill="none"/><g font-size="10.6" fill="#2b2b33" stroke="#2b2b33" stroke-width="0.25"><text x="133.5" y="1037.2">9</text><text x="163.7" y="1037.2">16</text><text x="192.2" y="1037.2">23</text><text x="210.1" y="1037.2">30</text><text x="233.5" y="1037.2">6</text><text x="263.7" y="1037.2">13</text><text x="293.5" y="1037.2">20</text><text x="322.3" y="1037.2">27</text><text x="352.2" y="1037.2">3</text><text x="382.1" y="1037.2">10</text><text x="410.9" y="1037.2">17</text><text x="440.9" y="1037.2">24</text><text x="470.7" y="1037.2">3</text><text x="500.9" y="1037.2">10</text><text x="530.2" y="1037.2">17</text><text x="559.5" y="1037.2">24</text><text x="589.4" y="1037.2">31</text><text x="618.2" y="1037.2">7</text><text x="648.1" y="1037.2">14</text><text x="671.5" y="1037.2">22</text><text x="695.5" y="1037.2">28</text><text x="724.9" y="1037.2">6</text><text x="748.7" y="1037.2">12</text><text x="778.3" y="1037.2">19</text><text x="808.2" y="1037.2">27</text><text x="831.7" y="1037.2">2</text><text x="861.5" y="1037.2">9</text><text x="891.7" y="1037.2">16</text><text x="920.2" y="1037.2">23</text><text x="950.9" y="1037.2">30</text><text x="979.7" y="1037.2">7</text><text x="1008.7" y="1037.2">14</text><text x="221.9" y="1047.6">2025</text><text x="352.0" y="1047.6">February</text><text x="470.5" y="1047.6">March</text><text x="594.5" y="1047.6">April</text><text x="713.2" y="1047.6">May</text><text x="831.5" y="1047.6">June</text><text x="955.2" y="1047.6">July</text><text x="122.5" y="1047.6">ember</text></g>
</g>
<rect x="964.3" y="423.8" width="112" height="39.5" fill="#fff" stroke="#666" stroke-width="1"/>
</svg>
<div class="t" style="left:811.662px;top:80.12px;font-size:22.3px;transform:scaleX(0.9886);color:#1a1a1a;">Daily Update – July 18, 2025</div>
<div class="t" style="left:105.704px;top:169.92px;font-size:21.6px;transform:scaleX(0.9559);font-weight:700;-webkit-text-stroke:0.3px #fff;">Sugar LIFFE (Aug</div>
<div class="t" style="left:302.704px;top:169.92px;font-size:21.6px;transform:scaleX(1.0109);font-weight:700;-webkit-text-stroke:0.3px #fff;">‘25) – Bullish Trend / Buy at CMP / Key Support at $465</div>
<div class="t" style="left:176.764px;top:225.26px;font-size:20.6px;transform:scaleX(0.9244);font-weight:700;-webkit-text-stroke:0.3px #fff;">Bullish Trend:</div>
<div class="t" style="left:308.764px;top:225.26px;font-size:20.6px;transform:scaleX(0.9877);">Buy at CMP ($498.5) or on a dip to $490 / Trend changes below $465.</div>
<div class="t" style="left:176.764px;top:261.26px;font-size:20.6px;transform:scaleX(1.0086);">Stop loss for bullish trades below $484 / profit-booking zones at $525 and $549.</div>
<div class="t" style="left:357.918px;top:310.76px;font-size:14.7px;transform:scaleX(1.0092);">Pivot Point Analysis - Support &amp; Resistance</div>
<div class="t" style="left:702.8180000000001px;top:310.76px;font-size:14.7px;transform:scaleX(0.9900);">Performance (% Change)</div>
<div class="t" style="left:927.618px;top:310.76px;font-size:14.7px;transform:scaleX(1.0730);">Trend &amp; Volatility</div>
<div class="t" style="left:140.118px;top:335.56px;font-size:14.7px;transform:scaleX(1.0312);">Global Commodities</div>
<div class="t" style="left:339.618px;top:335.56px;font-size:14.7px;transform:scaleX(0.9340);">S2</div>
<div class="t" style="left:413.718px;top:335.56px;font-size:14.7px;transform:scaleX(0.8839);">S1</div>
<div class="t" style="left:477.618px;top:335.56px;font-size:14.7px;transform:scaleX(0.9579);">Close</div>
<div class="t" style="left:564.618px;top:335.56px;font-size:14.7px;transform:scaleX(0.8936);">R1</div>
<div class="t" style="left:644.118px;top:335.56px;font-size:14.7px;transform:scaleX(0.9255);">R2</div>
<div class="t" style="left:703.418px;top:335.56px;font-size:14.7px;transform:scaleX(1.0054);">1 Day</div>
<div class="t" style="left:767.7180000000001px;top:335.56px;font-size:14.7px;transform:scaleX(1.0243);">1 Wk</div>
<div class="t" style="left:826.8180000000001px;top:335.56px;font-size:14.7px;transform:scaleX(1.0017);">4 Wks</div>
<div class="t" style="left:895.118px;top:335.56px;font-size:14.7px;transform:scaleX(1.0676);">Short</div>
<div class="t" style="left:962.418px;top:335.56px;font-size:14.7px;transform:scaleX(1.0775);">Major</div>
<div class="t" style="left:1023.918px;top:335.56px;font-size:14.7px;transform:scaleX(1.1075);">Volatility</div>
<div class="t" style="left:109.118px;top:359.76px;font-size:14.7px;transform:scaleX(1.0182);">Others</div>
<div class="t" style="left:109.118px;top:383.96px;font-size:14.7px;transform:scaleX(0.9243);">Sugar #5 (LIFFE)</div>
<div class="t" style="left:702.118px;top:383.96px;font-size:14.7px;transform:scaleX(0.9710);color:#8c1c24;">-100.00</div>
<div class="t" style="left:763.618px;top:383.96px;font-size:14.7px;transform:scaleX(0.9770);color:#8c1c24;">-100.00</div>
<div class="t" style="left:825.8180000000001px;top:383.96px;font-size:14.7px;transform:scaleX(0.9830);color:#8c1c24;">-100.00</div>
<div class="t" style="left:895.8180000000001px;top:383.96px;font-size:14.7px;transform:scaleX(0.9979);color:#8c1c24;">Down</div>
<div class="t" style="left:963.418px;top:383.96px;font-size:14.7px;transform:scaleX(1.0005);color:#8c1c24;">Down</div>
<div class="t" style="left:1030.118px;top:383.96px;font-size:14.7px;transform:scaleX(1.0283);">Normal</div>
<div class="t" style="left:106.618px;top:1064.26px;font-size:14.7px;transform:scaleX(0.9564);font-style:italic;">Please note: Top Panel: 1) The dashed black line is the</div>
<div class="t" style="left:453.318px;top:1064.26px;font-size:14.7px;transform:scaleX(0.9857);font-style:italic;">20-period EMA, while the solid red line is the</div>
<div class="t" style="left:742.618px;top:1064.26px;font-size:14.7px;transform:scaleX(1.0237);font-style:italic;">50-period Weighted MA; the intermediate-term trend</div>
<div class="t" style="left:106.618px;top:1089.96px;font-size:14.7px;transform:scaleX(0.9886);font-style:italic;">is bullish, when the 20-ema is higher than</div>
<div class="t" style="left:377.418px;top:1089.96px;font-size:14.7px;transform:scaleX(0.9575);font-style:italic;">the 50-wma and vice versa; 2)</div>
<div class="t" style="left:580.618px;top:1089.96px;font-size:14.7px;transform:scaleX(0.9845);font-style:italic;">‘Blue’</div>
<div class="t" style="left:628.118px;top:1089.96px;font-size:14.7px;transform:scaleX(1.0055);font-style:italic;">bars indicate positive short-term momentum,</div>
<div class="t" style="left:923.118px;top:1089.96px;font-size:14.7px;transform:scaleX(0.9890);font-style:italic;">and oscillator readings,</div>
<div class="t" style="left:106.618px;top:1115.56px;font-size:14.7px;transform:scaleX(0.9838);font-style:italic;">and suggest traders consider buy-setups;</div>
<div class="t" style="left:386.618px;top:1115.56px;font-size:14.7px;transform:scaleX(1.0510);font-style:italic;">‘red’</div>
<div class="t" style="left:428.318px;top:1115.56px;font-size:14.7px;transform:scaleX(0.9919);font-style:italic;">bars on the other hand indicate bearish momentum.</div>
<div class="t" style="left:765.618px;top:1115.56px;font-size:14.7px;transform:scaleX(0.9818);font-style:italic;">Bottom Panel: Shows the 14-period RSI indicator.</div>
<div class="t" style="left:106.42px;top:1158.96px;font-size:18.0px;transform:scaleX(1.0191);">Disclaimer: There is a risk of loss in trading in derivatives</div>
<div class="t" style="left:571.8199999999999px;top:1158.96px;font-size:18.0px;transform:scaleX(1.0372);">and the report is not to be construed as investment advice. The</div>
<div class="t" style="left:106.42px;top:1191.76px;font-size:18.0px;transform:scaleX(1.0389);">information provided in this report is intended solely</div>
<div class="t" style="left:536.42px;top:1191.76px;font-size:18.0px;transform:scaleX(1.0298);">for informative purposes. The author, directors and other employees</div>
<div class="t" style="left:106.42px;top:1224.56px;font-size:18.0px;transform:scaleX(1.0248);">of CC Commodity Info Services LLP cannot be</div>
<div class="t" style="left:491.42px;top:1224.56px;font-size:18.0px;transform:scaleX(1.0575);">held responsible for the accuracy of the information presented herein or</div>
<div class="t" style="left:106.42px;top:1257.36px;font-size:18.0px;transform:scaleX(1.0321);">for the results of the positions taken based on</div>
<div class="t" style="left:485.22px;top:1257.36px;font-size:18.0px;transform:scaleX(1.0393);">the opinions expressed above.</div>
<div class="t" style="left:978.758px;top:438.11px;font-size:15.7px;transform:scaleX(1.0419);">Daily Chart</div>
<div class="t" style="left:136.046px;top:904.74px;font-size:15.9px;transform:scaleX(1.0269);">Sugar (Aug</div>
<div class="t" style="left:235.046px;top:904.74px;font-size:15.9px;transform:scaleX(1.0298);">‘25)—</div>
<div class="t" style="left:136.046px;top:933.84px;font-size:15.9px;transform:scaleX(1.0304);">Trend remains Bullish</div>
<div class="t" style="left:136.046px;top:963.04px;font-size:15.9px;transform:scaleX(0.9942);">UNTIL we see a close</div>
<div class="t" style="left:136.046px;top:992.34px;font-size:15.9px;transform:scaleX(1.0282);">above $465.</div>
</body></html>
